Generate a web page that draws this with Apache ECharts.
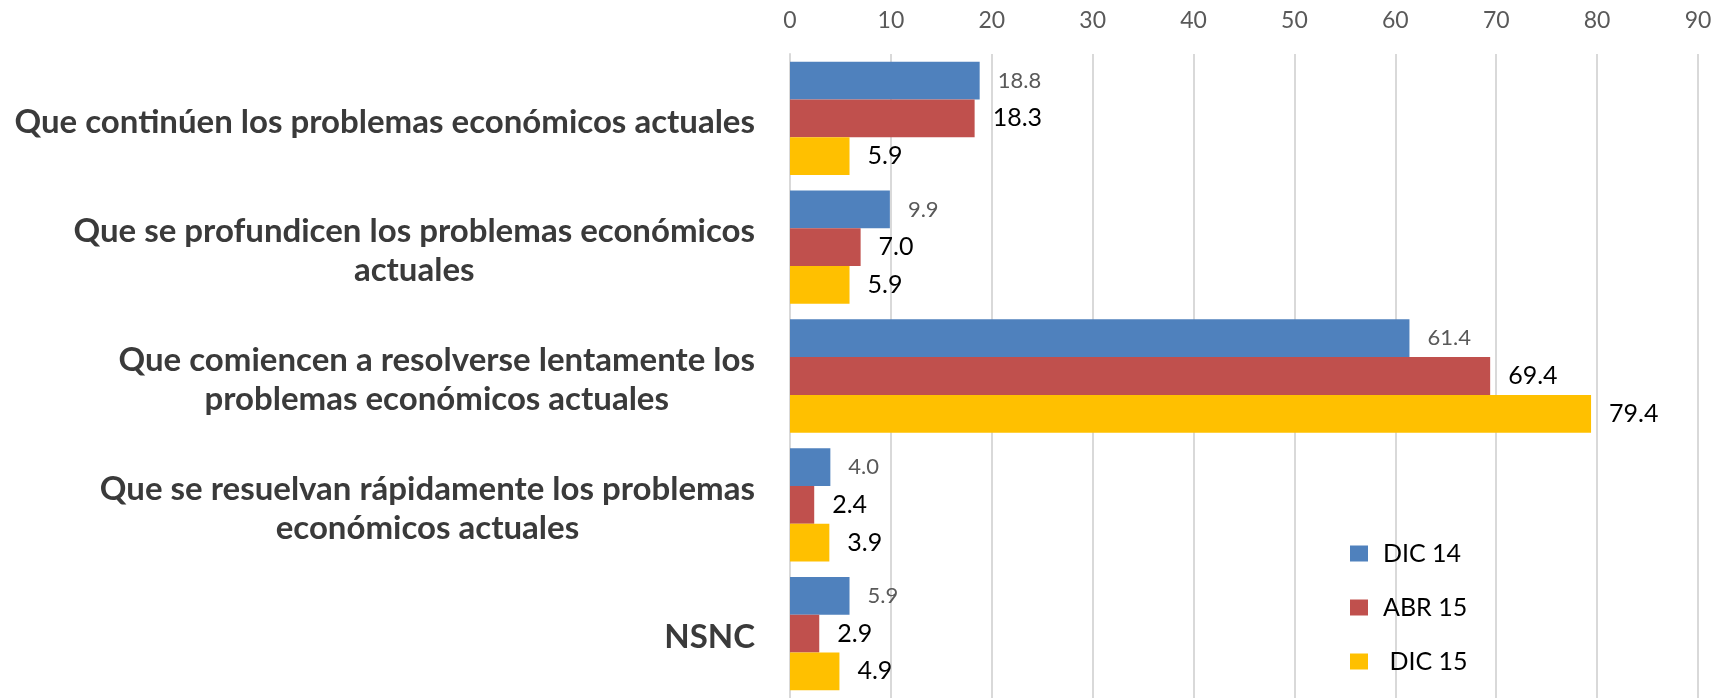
<!DOCTYPE html>
<html>
<head>
<meta charset="utf-8">
<script src="https://cdn.jsdelivr.net/npm/echarts@6/dist/echarts.min.js"></script>
<style>
html,body{margin:0;padding:0;background:#fff;}
#chart{width:1717px;height:698px;}
</style>
</head>
<body>
<div id="chart"></div>
<script>
const categories = [
  "Que continúen los problemas económicos actuales",
  "Que se profundicen los problemas económicos\nactuales",
  "Que comiencen a resolverse lentamente los\nproblemas económicos actuales",
  "Que se resuelvan rápidamente los problemas\neconómicos actuales",
  "NSNC"
];
const seriesNames = ["DIC 14", "ABR 15", "DIC 15"];
const dic14 = [18.8, 9.9, 61.4, 4.0, 5.9];
const abr15 = [18.3, 7.0, 69.4, 2.4, 2.9];
const dic15 = [5.9, 5.9, 79.4, 3.9, 4.9];
const xTicks = [0, 10, 20, 30, 40, 50, 60, 70, 80, 90];

const FONT = 'Lato';
const colors = ['#4F81BD', '#C0504D', '#FFC000'];
const labelColors = ['#595959', '#000000', '#000000'];
const labelSizes = [22, 25, 25];

const chart = echarts.init(document.getElementById('chart'));
const dataSets = [dic14, abr15, dic15];

chart.setOption({
  animation: false,
  backgroundColor: '#ffffff',
  textStyle: { fontFamily: FONT },
  legend: {
    orient: 'vertical',
    left: 1345,
    top: 536,
    itemWidth: 18,
    itemHeight: 16,
    itemGap: 29,
    icon: 'rect',
    data: seriesNames,
    formatter: function (n) { return n === 'DIC 15' ? ' ' + n : n; },
    textStyle: { fontFamily: FONT, fontSize: 25, color: '#000', lineHeight: 25, padding: [0, 0, 0, 10] }
  },
  grid: { left: 790, right: 19, top: 54, bottom: -6, containLabel: false },
  xAxis: {
    type: 'value',
    position: 'top',
    min: xTicks[0],
    max: xTicks[xTicks.length - 1],
    interval: 10,
    axisLine: { show: false },
    axisTick: { show: false },
    splitLine: { show: true, lineStyle: { color: '#d9d9d9', width: 2 } },
    axisLabel: { fontFamily: FONT, fontSize: 23, color: '#595959', margin: 22 }
  },
  yAxis: {
    type: 'category',
    inverse: true,
    data: categories,
    axisLine: { show: true, lineStyle: { color: '#d9d9d9', width: 2 } },
    axisTick: { show: false },
    axisLabel: {
      margin: 35,
      align: 'right',
      fontFamily: FONT,
      fontSize: 33,
      fontWeight: 'bold',
      color: '#3a3a3a',
      lineHeight: 39,
      padding: [8, 0, 0, 0],
      formatter: function (v) {
        return v.split('\n').map(function (l) { return '{c|' + l + '}'; }).join('\n');
      },
      rich: {
        c: { align: 'center', fontFamily: FONT, fontSize: 33, fontWeight: 'bold', color: '#3a3a3a', lineHeight: 39 }
      }
    }
  },
  series: seriesNames.map(function (name, i) {
    return {
      name: name,
      type: 'bar',
      data: dataSets[i],
      barGap: '0%',
      barCategoryGap: '12%',
      itemStyle: { color: colors[i] },
      label: {
        show: true,
        position: 'right',
        distance: 18,
        fontFamily: FONT,
        fontSize: labelSizes[i],
        color: labelColors[i],
        formatter: function (p) { return p.value.toFixed(1); }
      }
    };
  })
});
</script>
</body>
</html>
